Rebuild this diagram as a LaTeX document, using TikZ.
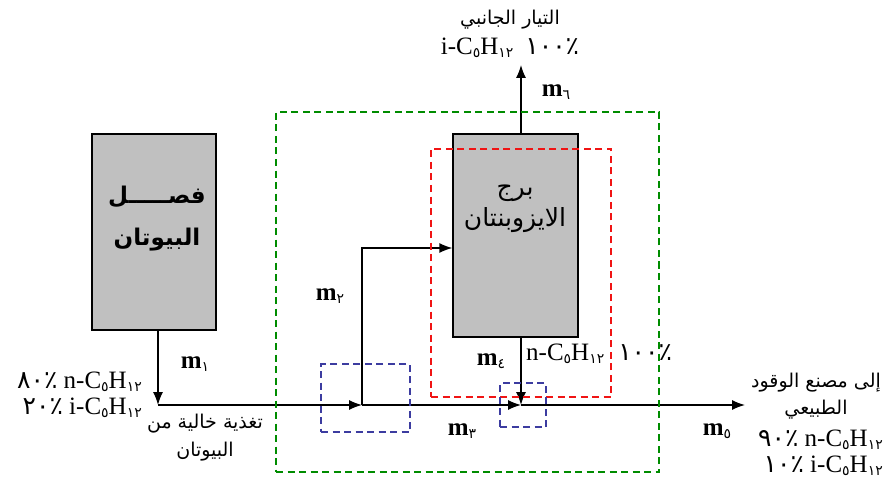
\documentclass[tikz,border=0pt]{standalone}
\usepackage{fontspec}
\setmainfont{Liberation Serif}
\newfontfamily\arabicfont[Script=Arabic]{DejaVu Sans}
\newfontfamily\digfont{DejaVu Sans}
\TeXXeTstate=1
\usetikzlibrary{arrows.meta}
\definecolor{boxgray}{RGB}{192,192,192}
\definecolor{dgreen}{RGB}{0,140,0}
\definecolor{dred}{RGB}{240,20,20}
\definecolor{dblue}{RGB}{60,60,160}
\newcommand\asub[1]{\raisebox{-0.25ex}{\fontsize{14}{14}\selectfont\digfont #1}}
\newcommand\ar[1]{{\arabicfont\beginR #1\endR}}
\tikzset{
  box/.style={draw, fill=boxgray, line width=1.3pt, inner sep=0pt},
  arr/.style={-{Latex[length=13pt,width=10pt]}, line width=1.3pt},
  dbox/.style={inner sep=0pt, line width=1.8pt, dash pattern=on 7pt off 4.5pt},
  lbl/.style={inner sep=1pt, font=\fontsize{25}{28}\selectfont},
  albl/.style={inner sep=1pt, font=\fontsize{19}{24}\selectfont},
}
\begin{document}
\begin{tikzpicture}[x=1pt,y=-1pt]
\useasboundingbox[fill=white] (0,0) rectangle (895,492);
% boxes
\node[box, minimum width=124pt, minimum height=196pt] (sep) at (154,232) {};
\node[box, minimum width=125pt, minimum height=203pt] (tower) at (515.5,235.5) {};
\node[font=\fontsize{23}{42}\selectfont\bfseries, align=center] (septext) at (157,219)
  {\ar{فصـــــل}\\\ar{البيوتان}};
\node[font=\fontsize{25}{31}\selectfont, align=center] (towertext) at (515,209) {\ar{برج}\\\ar{الايزوبنتان}};
% coordinates
\coordinate (feed) at (158,405);
\coordinate (j1) at (362,405);
\coordinate (j2) at (521,405);
\coordinate (out) at (745,405);
\coordinate (bend) at (362,248);
\coordinate (top) at (521,65);
% connectors
\draw[arr] (sep.south -| feed) -- (feed);
\draw[arr] (feed) -- (j1);
\draw[arr] (j1) -- (j2);
\draw[arr] (j2) -- (out);
\draw[arr] (j1) -- (bend) -- (bend -| tower.west);
\draw[arr] (tower.south -| j2) -- (j2);
\draw[arr] (tower.north -| top) -- (top);
% dashed boundaries
\node[dbox, draw=dgreen, minimum width=383pt, minimum height=360pt] (green) at (467.5,292) {};
\node[dbox, draw=dred, minimum width=180pt, minimum height=248pt] (red) at (521,273) {};
\node[dbox, draw=dblue, minimum width=89pt, minimum height=68pt] (blue1) at (365.5,398) {};
\node[dbox, draw=dblue, minimum width=46pt, minimum height=44pt] (blue2) at (523,405) {};
% stream labels
\node[lbl] (m1) at (195,364) {\textbf{m}\asub{١}};
\node[lbl] (m2) at (330,296) {\textbf{m}\asub{٢}};
\node[lbl] (m3) at (462,431) {\textbf{m}\asub{٣}};
\node[lbl] (m4) at (491,361) {\textbf{m}\asub{٤}};
\node[lbl] (m5) at (717,431) {\textbf{m}\asub{٥}};
\node[lbl] (m6) at (556,92) {\textbf{m}\asub{٦}};
% compositions
\node[lbl, anchor=west] (bot) at (525,354) {n-C\asub{٥}H\asub{١٢}\hspace{14pt}{\digfont ١٠٠٪}};
\node[albl] (toptitle) at (510,20) {\ar{التيار الجانبي}};
\node[lbl] (topcomp) at (510,48) {i-C\asub{٥}H\asub{١٢}\hspace{12pt}{\digfont ١٠٠٪}};
\node[lbl, anchor=east] (feed1) at (143,382) {{\digfont ٨٠٪} n-C\asub{٥}H\asub{١٢}};
\node[lbl, anchor=east] (feed2) at (143,408) {{\digfont ٢٠٪} i-C\asub{٥}H\asub{١٢}};
\node[albl] (feedt1) at (205,424) {\ar{تغذية خالية من}};
\node[albl] (feedt2) at (205,452) {\ar{البيوتان}};
\node[albl] (outt1) at (816,383) {\ar{إلى مصنع الوقود}};
\node[albl] (outt2) at (816,410) {\ar{الطبيعي}};
\node[lbl, anchor=east] (out1) at (884,440) {{\digfont ٩٠٪} n-C\asub{٥}H\asub{١٢}};
\node[lbl, anchor=east] (out2) at (884,466) {{\digfont ١٠٪} i-C\asub{٥}H\asub{١٢}};
\end{tikzpicture}
\end{document}
